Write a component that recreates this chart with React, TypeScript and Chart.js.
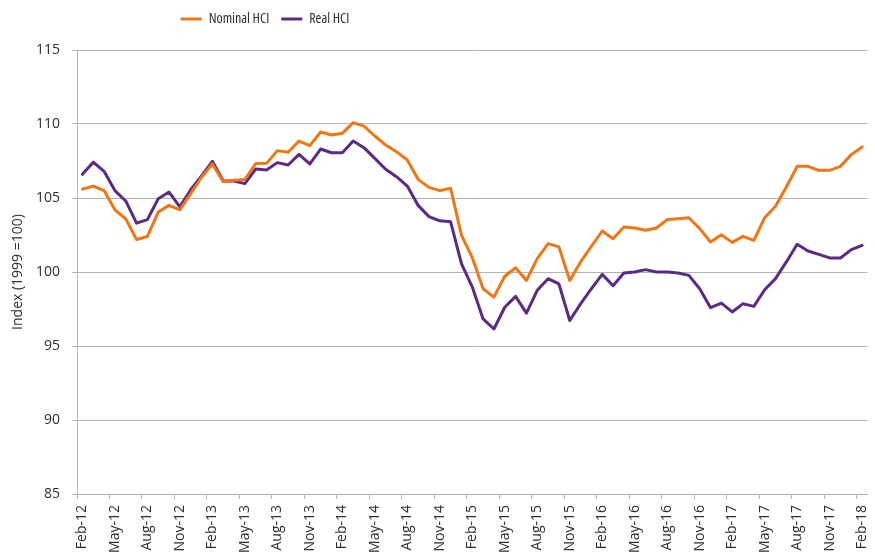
import React, { useEffect, useRef } from 'react';
import { Chart, registerables } from 'chart.js';

Chart.register(...registerables);

const MONTHS = [
  'Feb-12', 'Mar-12', 'Apr-12', 'May-12', 'Jun-12', 'Jul-12', 'Aug-12', 'Sep-12', 'Oct-12', 'Nov-12', 'Dec-12',
  'Jan-13', 'Feb-13', 'Mar-13', 'Apr-13', 'May-13', 'Jun-13', 'Jul-13', 'Aug-13', 'Sep-13', 'Oct-13', 'Nov-13', 'Dec-13',
  'Jan-14', 'Feb-14', 'Mar-14', 'Apr-14', 'May-14', 'Jun-14', 'Jul-14', 'Aug-14', 'Sep-14', 'Oct-14', 'Nov-14', 'Dec-14',
  'Jan-15', 'Feb-15', 'Mar-15', 'Apr-15', 'May-15', 'Jun-15', 'Jul-15', 'Aug-15', 'Sep-15', 'Oct-15', 'Nov-15', 'Dec-15',
  'Jan-16', 'Feb-16', 'Mar-16', 'Apr-16', 'May-16', 'Jun-16', 'Jul-16', 'Aug-16', 'Sep-16', 'Oct-16', 'Nov-16', 'Dec-16',
  'Jan-17', 'Feb-17', 'Mar-17', 'Apr-17', 'May-17', 'Jun-17', 'Jul-17', 'Aug-17', 'Sep-17', 'Oct-17', 'Nov-17', 'Dec-17',
  'Jan-18', 'Feb-18',
];

const X_TICK_LABELS = [
  'Feb-12', 'May-12', 'Aug-12', 'Nov-12', 'Feb-13', 'May-13', 'Aug-13', 'Nov-13', 'Feb-14', 'May-14', 'Aug-14', 'Nov-14',
  'Feb-15', 'May-15', 'Aug-15', 'Nov-15', 'Feb-16', 'May-16', 'Aug-16', 'Nov-16', 'Feb-17', 'May-17', 'Aug-17', 'Nov-17',
  'Feb-18',
];

const NOMINAL_HCI = [
  105.6, 105.8, 105.5, 104.2, 103.6, 102.2, 102.4, 104.05, 104.5, 104.2, 105.3,
  106.4, 107.3, 106.1, 106.2, 106.25, 107.33, 107.34, 108.2, 108.09, 108.85, 108.54, 109.46,
  109.26, 109.37, 110.09, 109.86, 109.19, 108.58, 108.13, 107.57, 106.26, 105.72, 105.5, 105.66,
  102.49, 100.97, 98.87, 98.3, 99.71, 100.29, 99.43, 100.9, 101.92, 101.7, 99.43, 100.68,
  101.74, 102.77, 102.25, 103.04, 102.97, 102.82, 102.97, 103.54, 103.6, 103.67, 102.93, 102.03,
  102.52, 102.0, 102.41, 102.14, 103.67, 104.44, 105.74, 107.14, 107.14, 106.87, 106.87, 107.14,
  107.93, 108.45,
];

const REAL_HCI = [
  106.6, 107.42, 106.8, 105.5, 104.8, 103.3, 103.54, 104.95, 105.4, 104.4, 105.56,
  106.5, 107.48, 106.15, 106.15, 105.97, 106.96, 106.89, 107.39, 107.23, 107.95, 107.3, 108.31,
  108.06, 108.06, 108.85, 108.4, 107.68, 106.94, 106.44, 105.81, 104.5, 103.74, 103.46, 103.39,
  100.57, 98.98, 96.83, 96.15, 97.62, 98.35, 97.22, 98.76, 99.55, 99.2, 96.72, 97.85,
  98.87, 99.84, 99.07, 99.93, 100.0, 100.16, 100.0, 100.0, 99.93, 99.77, 98.87, 97.59,
  97.9, 97.3, 97.86, 97.68, 98.8, 99.55, 100.68, 101.87, 101.42, 101.19, 100.95, 100.95,
  101.51, 101.8,
];

const Y_MIN = 85;
const Y_MAX = 115;
const Y_STEP = 5;

const ORANGE = '#F07515';
const PURPLE = '#5B2A86';
const GRID = '#B4B4B4';
const TEXT = '#2E2E2E';
const SANS = '"Open Sans", "Liberation Sans", sans-serif';

export default function App() {
  const ref = useRef<HTMLCanvasElement>(null);

  useEffect(() => {
    document.documentElement.style.overflow = 'hidden';
    document.body.style.margin = '0';
    document.body.style.overflow = 'hidden';
    const canvas = ref.current;
    if (!canvas) return;

    const chart = new Chart(canvas, {
      type: 'line',
      data: {
        labels: MONTHS,
        datasets: [
          {
            label: 'Nominal HCI',
            data: NOMINAL_HCI,
            borderColor: ORANGE,
            backgroundColor: ORANGE,
            borderWidth: 3,
            pointRadius: 0,
            tension: 0,
            borderJoinStyle: 'round',
            borderCapStyle: 'round',
          },
          {
            label: 'Real HCI',
            data: REAL_HCI,
            borderColor: PURPLE,
            backgroundColor: PURPLE,
            borderWidth: 3,
            pointRadius: 0,
            tension: 0,
            borderJoinStyle: 'round',
            borderCapStyle: 'round',
          },
        ],
      },
      options: {
        responsive: false,
        animation: false,
        devicePixelRatio: 1,
        layout: { padding: { left: 0, right: 8, top: 0, bottom: 0 } },
        plugins: {
          legend: {
            position: 'top',
            align: 'center',
            labels: {
              boxWidth: 21,
              boxHeight: 3,
              padding: 12,
              color: TEXT,
              font: { family: SANS, size: 14, weight: 'condensed' },
              generateLabels: (c: any) =>
                (Chart.defaults.plugins.legend.labels as any)
                  .generateLabels(c)
                  .map((l: any) => ({ ...l, lineWidth: 0 })),
            },
          },
          tooltip: { enabled: false },
        },
        scales: {
          x: {
            type: 'category',
            offset: true,
            grid: {
              offset: true,
              drawOnChartArea: false,
              drawTicks: true,
              tickLength: 5,
              lineWidth: 1,
              color: (ctx: any) => (ctx.index % 3 === 0 ? GRID : 'rgba(0,0,0,0)'),
            },
            border: { display: true, color: GRID, width: 1 },
            ticks: {
              autoSkip: false,
              minRotation: 90,
              maxRotation: 90,
              padding: 6,
              color: TEXT,
              font: { family: SANS, size: 14 },
              callback: (_v: any, index: number) =>
                X_TICK_LABELS.includes(MONTHS[index]) ? MONTHS[index] : '',
            },
            afterFit: (s: any) => {
              s.height = 59;
            },
          },
          y: {
            min: Y_MIN,
            max: Y_MAX,
            ticks: {
              stepSize: Y_STEP,
              padding: 12,
              color: TEXT,
              font: { family: SANS, size: 14 },
            },
            grid: { color: GRID, tickLength: 5, lineWidth: 1 },
            border: { display: true, color: GRID, width: 1 },
            title: {
              display: true,
              text: 'Index (1999 =100)',
              color: TEXT,
              font: { family: SANS, size: 14 },
              padding: { top: 10, bottom: 0 },
            },
            afterFit: (s: any) => {
              s.width = 77;
            },
          },
        },
      },
      plugins: [
        {
          id: 'legendPlacement',
          afterInit(c: any) {
            const lg = c.legend;
            const fit = lg.fit.bind(lg);
            lg.fit = function () {
              fit();
              this.height = 50;
            };
          },
          afterLayout(c: any) {
            c.legend.left = 0;
            c.legend.right = 530;
          },
        },
      ],
    } as any);

    return () => chart.destroy();
  }, []);

  return (
    <div style={{ width: 885, height: 553, position: 'relative' }}>
      <canvas ref={ref} width={885} height={553} style={{ display: 'block', width: 885, height: 553 }} />
    </div>
  );
}
